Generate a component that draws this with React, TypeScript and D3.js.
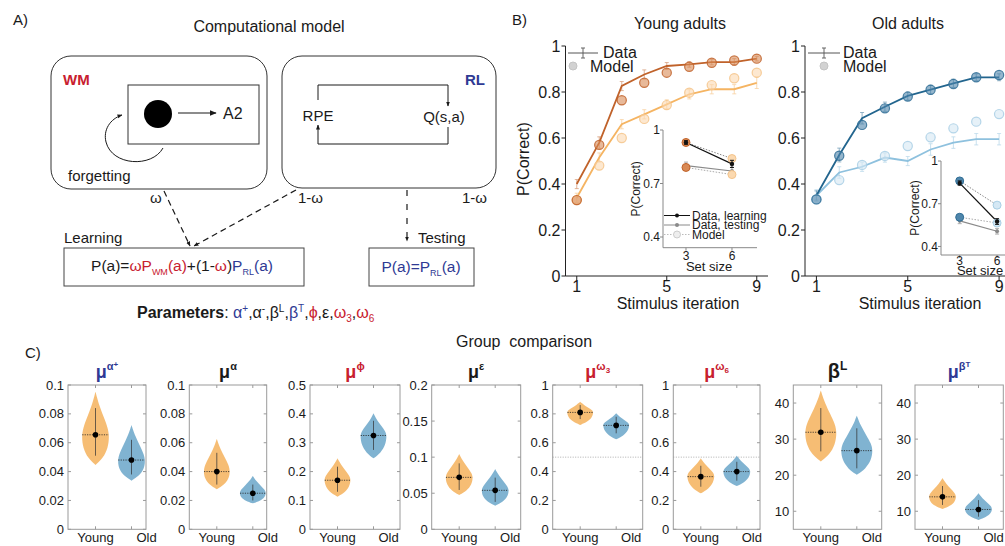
import React from "react";
import * as d3 from "d3";

const FONT = "'Liberation Sans', Arial, Helvetica, sans-serif";
const RED = "#c8202f";
const BLUE = "#2f3a94";
const INK = "#1a1a1a";

// B) learning curves (P(correct) per stimulus iteration)
const ITERATIONS = [1, 2, 3, 4, 5, 6, 7, 8, 9];
const ITER_TICKS = [1, 5, 9];
const PC_TICKS = [0, 0.2, 0.4, 0.6, 0.8, 1];

const YOUNG_DATA_NS3 = [0.4, 0.58, 0.826, 0.876, 0.913, 0.92, 0.93, 0.93, 0.945];
const YOUNG_ERR_NS3 = [0.02, 0.025, 0.02, 0.02, 0.015, 0.012, 0.012, 0.015, 0.01];
const YOUNG_DATA_NS6 = [0.34, 0.515, 0.66, 0.703, 0.746, 0.79, 0.812, 0.812, 0.84];
const YOUNG_ERR_NS6 = [0.02, 0.02, 0.02, 0.02, 0.02, 0.02, 0.02, 0.02, 0.025];
const YOUNG_MODEL_NS3 = [0.33, 0.57, 0.764, 0.84, 0.884, 0.91, 0.927, 0.937, 0.945];
const YOUNG_MODEL_NS6 = [0.33, 0.48, 0.6, 0.683, 0.743, 0.797, 0.83, 0.86, 0.884];

const OLD_DATA_NS3 = [0.35, 0.526, 0.686, 0.736, 0.783, 0.81, 0.838, 0.864, 0.864];
const OLD_ERR_NS3 = [0.02, 0.03, 0.025, 0.02, 0.018, 0.02, 0.018, 0.015, 0.015];
const OLD_DATA_NS6 = [0.35, 0.45, 0.475, 0.515, 0.5, 0.55, 0.58, 0.595, 0.595];
const OLD_ERR_NS6 = [0.025, 0.025, 0.02, 0.02, 0.02, 0.025, 0.025, 0.025, 0.025];
const OLD_MODEL_NS3 = [0.333, 0.523, 0.657, 0.729, 0.78, 0.81, 0.835, 0.864, 0.874];
const OLD_MODEL_NS6 = [0.333, 0.417, 0.483, 0.522, 0.565, 0.603, 0.642, 0.671, 0.704];

// B) insets: set size 3 and 6
const SET_SIZES = [3, 6];
const INSET_Y_TICKS = [0.4, 0.7, 1];
const YOUNG_IN_LEARN = [0.93, 0.81];
const YOUNG_IN_LEARN_ERR = [0.01, 0.02];
const YOUNG_IN_TEST = [0.8, 0.77];
const YOUNG_IN_TEST_ERR = [0.02, 0.02];
const YOUNG_IN_MODEL_LEARN = [0.93, 0.84];
const YOUNG_IN_MODEL_TEST = [0.79, 0.75];
const OLD_IN_LEARN = [0.845, 0.575];
const OLD_IN_LEARN_ERR = [0.015, 0.02];
const OLD_IN_TEST = [0.58, 0.507];
const OLD_IN_TEST_ERR = [0.02, 0.02];
const OLD_IN_MODEL_LEARN = [0.86, 0.69];
const OLD_IN_MODEL_TEST = [0.605, 0.565];

// C) group comparison of parameters
const PARAM_Y_MIN = [0, 0, 0, 0, 0, 0, 5, 5];
const PARAM_Y_MAX = [0.1, 0.1, 0.5, 0.2, 1, 1, 45, 45];
const PARAM_TICKS = [
  [0, 0.02, 0.04, 0.06, 0.08, 0.1],
  [0, 0.02, 0.04, 0.06, 0.08, 0.1],
  [0, 0.1, 0.2, 0.3, 0.4, 0.5],
  [0, 0.05, 0.1, 0.15, 0.2],
  [0, 0.2, 0.4, 0.6, 0.8, 1],
  [0, 0.2, 0.4, 0.6, 0.8, 1],
  [10, 20, 30, 40],
  [10, 20, 30, 40],
];
const CHANCE = [null, null, null, null, 0.5, 0.5, null, null];
const TITLE_BASE = ["μ", "μ", "μ", "μ", "μ", "μ", "β", "μ"];
const TITLE_SUP = ["α", "α", "ϕ", "ε", "ω", "ω", "L", "β"];
const TITLE_SUB = ["", "", "", "", "3", "6", "", ""];
const TITLE_SUPSUP = ["+", "", "", "", "", "", "", "T"];
const TITLE_COLOR = [BLUE, INK, RED, INK, RED, RED, INK, BLUE];
const GROUPS = ["Young", "Old"];

const YOUNG_MEAN = [0.0655, 0.04, 0.17, 0.072, 0.81, 0.365, 31.9, 14];
const YOUNG_CI_LO = [0.051, 0.031, 0.13, 0.0545, 0.764, 0.295, 26.6, 11.75];
const YOUNG_CI_HI = [0.084, 0.053, 0.217, 0.0914, 0.861, 0.44, 38.6, 17];
const YOUNG_MIN = [0.0446, 0.0277, 0.113, 0.0475, 0.723, 0.249, 23.8, 10.6];
const YOUNG_MAX = [0.0954, 0.0626, 0.246, 0.1044, 0.884, 0.492, 43.5, 19.2];
const YOUNG_MODE = [0.064, 0.04, 0.171, 0.0716, 0.811, 0.369, 31.7, 14];
const OLD_MEAN = [0.048, 0.025, 0.325, 0.054, 0.72, 0.4, 26.8, 10.5];
const OLD_CI_LO = [0.038, 0.02, 0.275, 0.038, 0.665, 0.337, 21.9, 8.5];
const OLD_CI_HI = [0.062, 0.031, 0.376, 0.0716, 0.78, 0.468, 33, 13.1];
const OLD_MIN = [0.0337, 0.018, 0.246, 0.0327, 0.624, 0.3, 20.1, 7.6];
const OLD_MAX = [0.0723, 0.037, 0.402, 0.0836, 0.804, 0.51, 36.5, 15];
const OLD_MODE = [0.047, 0.025, 0.323, 0.0535, 0.723, 0.4, 26.8, 10.6];

// violin outline template: [fraction along segment, relative half width]
const VIOLIN_LOWER = [[0, 0], [0.25, 0.55], [0.6, 0.9], [1, 1]];
const VIOLIN_UPPER = [[0, 1], [0.2, 0.9], [0.45, 0.58], [0.7, 0.27], [0.88, 0.1], [1, 0]];

// layout of the violin panels
const PANEL_LEFT = [68, 189.3, 310, 431.7, 552.7, 673.3, 793.3, 915];
const PANEL_WIDTH = [78, 77.4, 90, 89, 90, 86.7, 88.4, 88.3];
const VIOLIN_HW = [13.8, 13.3, 13.3, 13.8, 13.3, 13.8, 16, 13.8];

const Y_COL = { young: ["#c0622a", "#f5b462"], old: ["#22658e", "#8ec1de"] };

function ErrBar({ x, y0, y1, color, cap = 2.5, width = 1, opacity = 0.7 }) {
  return (
    <g stroke={color} strokeWidth={width} opacity={opacity}>
      <line x1={x} x2={x} y1={y0} y2={y1} />
      <line x1={x - cap} x2={x + cap} y1={y0} y2={y0} />
      <line x1={x - cap} x2={x + cap} y1={y1} y2={y1} />
    </g>
  );
}

function Inset({ xs, ys, learn, learnErr, test, testErr, mLearn, mTest, cols, xEnd, labelX, showLegend, ticksRight, tickDy, setDy, setX }) {
  const line = d3.line<number>().x((_, i) => xs(SET_SIZES[i])).y((d) => ys(d));
  const [y0, y1] = ys.range();
  const x0 = xs.range()[0];
  const circ = (v, i) => (
    <circle key={i} cx={xs(SET_SIZES[i])} cy={ys(v)} r={4}
      fill={i === 0 ? cols.m3f : cols.m6f} stroke={i === 0 ? cols.m3s : cols.m6s} strokeWidth={1} />
  );
  return (
    <g fontFamily={FONT}>
      <line x1={x0} x2={x0} y1={y0} y2={y1} stroke="#888" />
      <line x1={x0} x2={xEnd} y1={y0} y2={y0} stroke="#888" />
      {INSET_Y_TICKS.map((t) => (
        <g key={t}>
          <line x1={x0 - 3} x2={x0} y1={ys(t)} y2={ys(t)} stroke="#888" />
          <text x={ticksRight} y={ys(t)} dy="0.35em" textAnchor="end" fontSize={12} fill={INK}>{t}</text>
        </g>
      ))}
      {SET_SIZES.map((s) => (
        <g key={s}>
          <line x1={xs(s)} x2={xs(s)} y1={y0} y2={y0 + 3} stroke="#888" />
          <text x={xs(s)} y={y0 + tickDy} textAnchor="middle" fontSize={12} fill={INK}>{s}</text>
        </g>
      ))}
      <text x={setX} y={y0 + setDy} textAnchor="middle" fontSize={13} fill={INK}>Set size</text>
      <text transform={`translate(${labelX},${(y0 + y1) / 2}) rotate(-90)`} textAnchor="middle" fontSize={12} fill={INK}>P(Correct)</text>
      <path d={line(mLearn)} fill="none" stroke="#888" strokeWidth={1} strokeDasharray="1.5,1.5" />
      <path d={line(mTest)} fill="none" stroke="#aaa" strokeWidth={1} strokeDasharray="1.5,1.5" />
      <path d={line(test)} fill="none" stroke="#8a8a8a" strokeWidth={1.2} />
      <path d={line(learn)} fill="none" stroke="#111" strokeWidth={1.2} />
      {test.map((v, i) => (
        <g key={"t" + i}>
          <ErrBar x={xs(SET_SIZES[i])} y0={ys(v - testErr[i])} y1={ys(v + testErr[i])} color="#8a8a8a" cap={2} />
          <circle cx={xs(SET_SIZES[i])} cy={ys(v)} r={2} fill="#8a8a8a" />
        </g>
      ))}
      {mLearn.map(circ)}
      {mTest.map(circ)}
      {learn.map((v, i) => (
        <g key={"l" + i}>
          <ErrBar x={xs(SET_SIZES[i])} y0={ys(v - learnErr[i])} y1={ys(v + learnErr[i])} color="#111" cap={2} opacity={1} />
          <circle cx={xs(SET_SIZES[i])} cy={ys(v)} r={2.2} fill="#111" />
        </g>
      ))}
      {showLegend && (
        <g fontSize={12} fill={INK}>
          <line x1={664} x2={690} y1={215.5} y2={215.5} stroke="#111" />
          <circle cx={677} cy={215.5} r={2} fill="#111" />
          <text x={692} y={219.5}>Data, learning</text>
          <line x1={664} x2={690} y1={225} y2={225} stroke="#8a8a8a" />
          <circle cx={677} cy={225} r={2} fill="#8a8a8a" />
          <text x={692} y={229}>Data, testing</text>
          <line x1={664} x2={690} y1={234.5} y2={234.5} stroke="#bbb" strokeDasharray="1.5,1.5" />
          <circle cx={677} cy={234.5} r={3.5} fill="#eee" stroke="#ccc" />
          <text x={692} y={238.5}>Model</text>
        </g>
      )}
    </g>
  );
}

function CurvePanel({ xs, ys, title, titleX, xLabelX, d3v, e3, d6, e6, m3, m6, cols, legend, children }) {
  const line = d3.line<number>().x((_, i) => xs(ITERATIONS[i])).y((d) => ys(d));
  const [xa, xb] = xs.range();
  const [y0, y1] = ys.range();
  const series = [
    { d: d6, e: e6, m: m6, c: cols.c6, mf: cols.m6f, ms: cols.m6s },
    { d: d3v, e: e3, m: m3, c: cols.c3, mf: cols.m3f, ms: cols.m3s },
  ];
  return (
    <g fontFamily={FONT} fill={INK}>
      <text x={titleX} y={29} textAnchor="middle" fontSize={16}>{title}</text>
      <line x1={xa} x2={xa} y1={y0} y2={y1} stroke="#222" />
      <line x1={xa} x2={xb} y1={y0} y2={y0} stroke="#222" />
      {PC_TICKS.map((t) => (
        <g key={t}>
          <line x1={xa - 4} x2={xa} y1={ys(t)} y2={ys(t)} stroke="#222" />
          <text x={xa - 5} y={ys(t)} dy="0.35em" textAnchor="end" fontSize={16}>{t}</text>
        </g>
      ))}
      {ITER_TICKS.map((t) => (
        <g key={t}>
          <line x1={xs(t)} x2={xs(t)} y1={y0} y2={y0 + 4} stroke="#222" />
          <text x={xs(t)} y={y0 + 16} textAnchor="middle" fontSize={16}>{t}</text>
        </g>
      ))}
      <text x={xLabelX} y={309} textAnchor="middle" fontSize={16}>Stimulus iteration</text>
      {series.map((s, k) => (
        <g key={k}>
          <path d={line(s.d)} fill="none" stroke={s.c} strokeWidth={1.8} />
          {s.d.map((v, i) => (
            <ErrBar key={i} x={xs(ITERATIONS[i])} y0={ys(v - s.e[i])} y1={ys(v + s.e[i])} color={s.c} cap={2} width={0.8} opacity={0.6} />
          ))}
        </g>
      ))}
      {series.map((s, k) => (
        <g key={"m" + k}>
          {s.m.map((v, i) => (
            <circle key={i} cx={xs(ITERATIONS[i])} cy={ys(v)} r={4.6} fill={s.mf} fillOpacity={0.6} stroke={s.ms} strokeWidth={1.2} strokeOpacity={0.85} />
          ))}
        </g>
      ))}
      <g>
        <line x1={legend.lx0} x2={legend.lx1} y1={53} y2={53} stroke="#555" />
        <ErrBar x={(legend.lx0 + legend.lx1) / 2} y0={48} y1={58} color="#555" cap={2} opacity={0.9} />
        <text x={legend.dataX} y={58} fontSize={16}>Data</text>
        <circle cx={legend.cx} cy={66} r={4} fill="#d2d2d2" stroke="#c4c4c4" />
        <text x={legend.modelX} y={72} fontSize={16}>Model</text>
      </g>
      {children}
    </g>
  );
}

function ViolinPanel({ k }) {
  const left = PANEL_LEFT[k];
  const w = PANEL_WIDTH[k];
  const top = 385;
  const bottom = 529.3;
  const ys = d3.scaleLinear().domain([PARAM_Y_MIN[k], PARAM_Y_MAX[k]]).range([bottom, top]);
  const xs = d3.scaleLinear().domain([1, 2]).range([left + 27.5, left + 63.5]);
  const hw = VIOLIN_HW[k];
  const area = d3
    .area<{ v: number; w: number }>()
    .y((d) => ys(d.v))
    .curve(d3.curveBasis);
  const groups = [
    { cx: xs(1), mean: YOUNG_MEAN[k], lo: YOUNG_CI_LO[k], hi: YOUNG_CI_HI[k], min: YOUNG_MIN[k], max: YOUNG_MAX[k], mode: YOUNG_MODE[k], fill: "#f5b665" },
    { cx: xs(2), mean: OLD_MEAN[k], lo: OLD_CI_LO[k], hi: OLD_CI_HI[k], min: OLD_MIN[k], max: OLD_MAX[k], mode: OLD_MODE[k], fill: "#72abcc" },
  ];
  const gray = "#9a9a9a";
  return (
    <g fontFamily={FONT}>
      <rect x={left} y={top} width={w} height={bottom - top} fill="none" stroke={gray} />
      {PARAM_TICKS[k].map((t) => (
        <g key={t}>
          <line x1={left} x2={left + 3} y1={ys(t)} y2={ys(t)} stroke={gray} />
          <line x1={left + w - 3} x2={left + w} y1={ys(t)} y2={ys(t)} stroke={gray} />
          <text x={left - 4} y={ys(t)} dy="0.35em" textAnchor="end" fontSize={13} fill={INK}>{t}</text>
        </g>
      ))}
      {[1, 2].map((g) => (
        <g key={g}>
          <line x1={xs(g)} x2={xs(g)} y1={top} y2={top + 3} stroke={gray} />
          <line x1={xs(g)} x2={xs(g)} y1={bottom} y2={bottom - 3} stroke={gray} />
          <text x={xs(g) + (g === 2 ? 15 : 0)} y={542} textAnchor="middle" fontSize={13} fill={INK}>{GROUPS[g - 1]}</text>
        </g>
      ))}
      {CHANCE[k] !== null && (
        <line x1={left} x2={left + w} y1={ys(CHANCE[k])} y2={ys(CHANCE[k])} stroke="#999" strokeWidth={0.8} strokeDasharray="1,1.5" />
      )}
      {groups.map((g, i) => {
        const pts = VIOLIN_LOWER.map(([u, r]) => ({ v: g.min + u * (g.mode - g.min), w: r }));
        VIOLIN_UPPER.slice(1).forEach(([u, r]) => pts.push({ v: g.mode + u * (g.max - g.mode), w: r }));
        const path = area.x0((d) => g.cx - d.w * hw).x1((d) => g.cx + d.w * hw)(pts);
        return (
          <g key={i}>
            <path d={path} fill={g.fill} fillOpacity={0.9} />
            <line x1={g.cx - hw * 0.96} x2={g.cx + hw * 0.96} y1={ys(g.mean)} y2={ys(g.mean)} stroke="#222" strokeWidth={0.8} strokeDasharray="1.2,1.2" />
            <line x1={g.cx} x2={g.cx} y1={ys(g.lo)} y2={ys(g.hi)} stroke="#333" strokeWidth={0.9} opacity={0.8} />
            <circle cx={g.cx} cy={ys(g.mean)} r={2.8} fill="#000" />
          </g>
        );
      })}
      <text x={left + w / 2} y={378} textAnchor="middle" fill={TITLE_COLOR[k]} fontWeight="bold">
        <tspan fontSize={k === 6 ? 20 : 18}>{TITLE_BASE[k]}</tspan>
        <tspan fontSize={k === 6 ? 12 : 11} dy={-8}>{TITLE_SUP[k]}</tspan>
        {TITLE_SUB[k] && <tspan fontSize={8} dy={3}>{TITLE_SUB[k]}</tspan>}
        {TITLE_SUPSUP[k] && <tspan fontSize={8} dy={-3}>{TITLE_SUPSUP[k]}</tspan>}
      </text>
    </g>
  );
}

function ModelDiagram() {
  return (
    <g fontFamily={FONT} fill={INK}>
      <defs>
        <marker id="ah" viewBox="0 0 10 10" refX="9" refY="5" markerWidth="7" markerHeight="7" orient="auto" markerUnits="userSpaceOnUse">
          <path d="M0,1 L10,5 L0,9 z" fill={INK} />
        </marker>
        <marker id="ahs" viewBox="0 0 10 10" refX="9" refY="5" markerWidth="5" markerHeight="5" orient="auto" markerUnits="userSpaceOnUse">
          <path d="M0,1 L10,5 L0,9 z" fill={INK} />
        </marker>
      </defs>
      <text x={13} y={25} fontSize={15}>A)</text>
      <text x={269} y={32} textAnchor="middle" fontSize={16}>Computational model</text>

      <rect x={51} y={56} width={216} height={133} rx={20} fill="none" stroke="#333" />
      <text x={63} y={85} fontSize={15} fontWeight="bold" fill={RED}>WM</text>
      <rect x={128} y={85} width={131} height={59} fill="none" stroke="#333" />
      <circle cx={158} cy={114} r={14} fill="#000" />
      <line x1={178} x2={216} y1={113} y2={113} stroke={INK} strokeWidth={1.2} markerEnd="url(#ah)" />
      <text x={223} y={119} fontSize={16}>A2</text>
      <path d="M163,148 C152,168 112,166 106,142 C103,130 110,119 122,115" fill="none" stroke={INK} markerEnd="url(#ahs)" />
      <text x={68} y={181} fontSize={15}>forgetting</text>

      <rect x={282} y={56} width={214} height={132} rx={20} fill="none" stroke="#333" />
      <text x={465} y={85} fontSize={15} fontWeight="bold" fill={BLUE}>RL</text>
      <path d="M318,100 L318,85 L448,85 L448,106" fill="none" stroke={INK} markerEnd="url(#ahs)" />
      <path d="M448,127 L448,144 L318,144 L318,125" fill="none" stroke={INK} markerEnd="url(#ahs)" />
      <text x={318} y={121} textAnchor="middle" fontSize={15}>RPE</text>
      <text x={444} y={122} textAnchor="middle" fontSize={15}>Q(s,a)</text>

      <text x={150} y={203} fontSize={15}>ω</text>
      <text x={298} y={203} fontSize={15}>1-ω</text>
      <text x={462} y={203} fontSize={15}>1-ω</text>
      <line x1={164} y1={191} x2={190} y2={246} stroke={INK} strokeWidth={1.2} strokeDasharray="6,4" markerEnd="url(#ahs)" />
      <line x1={296} y1={190} x2={194} y2={246} stroke={INK} strokeWidth={1.2} strokeDasharray="6,4" markerEnd="url(#ahs)" />
      <line x1={407} y1={190} x2={407} y2={241} stroke={INK} strokeWidth={1.2} strokeDasharray="6,8" markerEnd="url(#ahs)" />

      <text x={64} y={243} fontSize={15}>Learning</text>
      <rect x={64} y={248} width={240} height={38} fill="none" stroke="#444" />
      <text x={182} y={271} textAnchor="middle" fontSize={15.5}>
        <tspan>P(a)=</tspan>
        <tspan fill={RED}>ωP</tspan>
        <tspan fill={RED} fontSize={9} dy={4}>WM</tspan>
        <tspan fill={RED} dy={-4}>(a)</tspan>
        <tspan>+(1-</tspan>
        <tspan fill={RED}>ω</tspan>
        <tspan>)</tspan>
        <tspan fill={BLUE}>P</tspan>
        <tspan fill={BLUE} fontSize={9} dy={4}>RL</tspan>
        <tspan fill={BLUE} dy={-4}>(a)</tspan>
      </text>

      <text x={418} y={243} fontSize={15}>Testing</text>
      <rect x={369} y={248} width={105} height={38} fill="none" stroke="#444" />
      <text x={421} y={272} textAnchor="middle" fontSize={15.5} fill={BLUE}>
        <tspan>P(a)=P</tspan>
        <tspan fontSize={9} dy={4}>RL</tspan>
        <tspan dy={-4}>(a)</tspan>
      </text>

      <text x={137} y={318} fontSize={16}>
        <tspan fontWeight="bold">Parameters</tspan>
        <tspan>: </tspan>
        <tspan fill={BLUE}>α</tspan>
        <tspan fill={BLUE} fontSize={10} dy={-6}>+</tspan>
        <tspan dy={6}>,α</tspan>
        <tspan fontSize={10} dy={-6}>-</tspan>
        <tspan dy={6}>,β</tspan>
        <tspan fontSize={10} dy={-6}>L</tspan>
        <tspan dy={6}>,</tspan>
        <tspan fill={BLUE}>β</tspan>
        <tspan fill={BLUE} fontSize={10} dy={-6}>T</tspan>
        <tspan dy={6}>,</tspan>
        <tspan fill={RED}>ϕ</tspan>
        <tspan>,ε,</tspan>
        <tspan fill={RED}>ω</tspan>
        <tspan fill={RED} fontSize={10} dy={4}>3</tspan>
        <tspan dy={-4}>,</tspan>
        <tspan fill={RED}>ω</tspan>
        <tspan fill={RED} fontSize={10} dy={4}>6</tspan>
      </text>
    </g>
  );
}

export default function App() {
  const ys = d3.scaleLinear().domain([0, 1]).range([276, 46]);
  const xYoung = d3.scaleLinear().domain([0.5, 9.5]).range([565.5, 768]);
  const xOld = d3.scaleLinear().domain([0.5, 9.5]).range([805, 1010.5]);

  const youngCols = {
    c3: Y_COL.young[0], c6: Y_COL.young[1],
    m3f: "#d98a55", m3s: "#c0622a", m6f: "#fbd9b0", m6s: "#f5c48a",
  };
  const oldCols = {
    c3: Y_COL.old[0], c6: Y_COL.old[1],
    m3f: "#4f86ab", m3s: "#2f6d95", m6f: "#d5e8f4", m6s: "#a9cfe5",
  };

  const yInYoung = d3.scaleLinear().domain([0.34, 1]).range([247.7, 130]);
  const xInYoung = d3.scaleLinear().domain([1.5, 7.6]).range([663, 756.5]);
  const yInOld = d3.scaleLinear().domain([0.34, 1]).range([255, 161]);
  const xInOld = d3.scaleLinear().domain([1.5, 7.6]).range([941, 1017]);

  return (
    <svg width={1005} height={546} viewBox="0 0 1005 546"
      style={{ position: "absolute", left: 0, top: 0, background: "#fff" }}>
      <rect width={1005} height={546} fill="#fff" />
      <ModelDiagram />

      <text x={512} y={25} fontSize={15} fontFamily={FONT} fill={INK}>B)</text>
      <text transform="translate(529,159) rotate(-90)" textAnchor="middle" fontSize={16} fontFamily={FONT} fill={INK}>P(Correct)</text>

      <CurvePanel xs={xYoung} ys={ys} title="Young adults" titleX={680} xLabelX={678}
        d3v={YOUNG_DATA_NS3} e3={YOUNG_ERR_NS3} d6={YOUNG_DATA_NS6} e6={YOUNG_ERR_NS6}
        m3={YOUNG_MODEL_NS3} m6={YOUNG_MODEL_NS6} cols={youngCols}
        legend={{ lx0: 568, lx1: 598, dataX: 603, cx: 573, modelX: 590 }}>
        <Inset xs={xInYoung} ys={yInYoung} learn={YOUNG_IN_LEARN} learnErr={YOUNG_IN_LEARN_ERR}
          test={YOUNG_IN_TEST} testErr={YOUNG_IN_TEST_ERR} mLearn={YOUNG_IN_MODEL_LEARN} mTest={YOUNG_IN_MODEL_TEST}
          cols={youngCols} xEnd={757} labelX={640} showLegend ticksRight={660} tickDy={12.5} setDy={23.5} setX={709} />
      </CurvePanel>

      <CurvePanel xs={xOld} ys={ys} title="Old adults" titleX={908} xLabelX={920}
        d3v={OLD_DATA_NS3} e3={OLD_ERR_NS3} d6={OLD_DATA_NS6} e6={OLD_ERR_NS6}
        m3={OLD_MODEL_NS3} m6={OLD_MODEL_NS6} cols={oldCols}
        legend={{ lx0: 808, lx1: 840, dataX: 843, cx: 824, modelX: 843 }}>
        <Inset xs={xInOld} ys={yInOld} learn={OLD_IN_LEARN} learnErr={OLD_IN_LEARN_ERR}
          test={OLD_IN_TEST} testErr={OLD_IN_TEST_ERR} mLearn={OLD_IN_MODEL_LEARN} mTest={OLD_IN_MODEL_TEST}
          cols={oldCols} xEnd={1010} labelX={919} showLegend={false} ticksRight={938} tickDy={9.5} setDy={20} setX={980} />
      </CurvePanel>

      <text x={25} y={358} fontSize={15} fontFamily={FONT} fill={INK}>C)</text>
      <text x={524} y={347} textAnchor="middle" fontSize={16} fontFamily={FONT} fill={INK} style={{ whiteSpace: "pre" }}>{"Group  comparison"}</text>
      {PANEL_LEFT.map((_, k) => (
        <ViolinPanel key={k} k={k} />
      ))}
    </svg>
  );
}
